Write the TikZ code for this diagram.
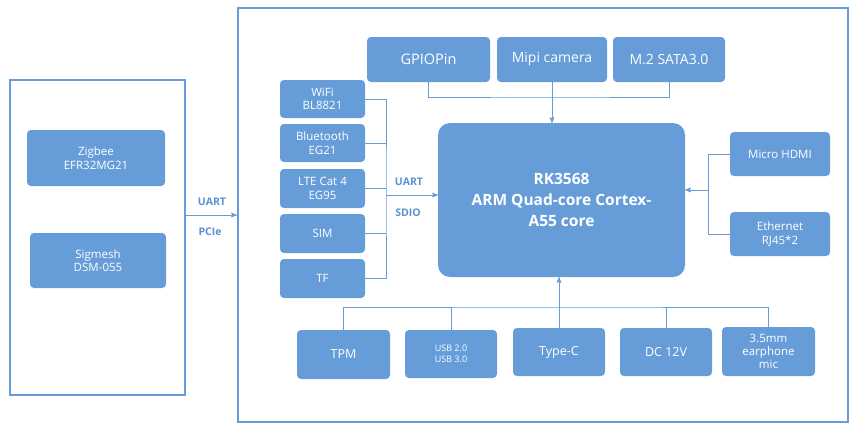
\documentclass[tikz,border=0pt]{standalone}
\usepackage{fontspec}
\setmainfont{Open Sans}
\usetikzlibrary{positioning, arrows, calc}
\definecolor{boxblue}{RGB}{102, 157, 217}
\definecolor{textblue}{RGB}{90, 145, 210}

\begin{document}
\begin{tikzpicture}[
    x=1pt, y=-1pt,
    block/.style={rectangle, rounded corners=4pt, draw=none, fill=boxblue, text=white, align=center, font=\fontsize{11.5}{13.5}\selectfont, inner sep=1pt},
    frame/.style={rectangle, draw=boxblue, line width=2.5pt, inner sep=0pt},
    bus/.style={draw=boxblue, line width=1pt},
    arrow/.style={bus, ->, >=stealth'},
    tag/.style={text=textblue, font=\fontsize{10.5}{12}\selectfont\bfseries}
]
\useasboundingbox (0,0) rectangle (858,432);

% outer frames
\node (left) [frame, minimum width=175, minimum height=315] at (97.5,237.5) {};
\node (board) [frame, minimum width=610, minimum height=414] at (543,215) {};

% left side modules
\node (zigbee) [block, minimum width=138, minimum height=56] at (96,158) {Zigbee\\EFR32MG21};
\node (sigmesh) [block, minimum width=136, minimum height=55] at (98,260.5) {Sigmesh\\DSM-055};

% core
\node (soc) [block, rounded corners=12pt, minimum width=247, minimum height=154, font=\fontsize{15.5}{21}\selectfont\bfseries] at (561.5,200) {RK3568\\ARM Quad-core Cortex-\\A55 core};

% top row
\node (gpio) [block, minimum width=123, minimum height=45, font=\fontsize{14.5}{17}\selectfont] at (428.5,59.5) {GPIOPin};
\node (mipi) [block, minimum width=110, minimum height=45, font=\fontsize{14}{17}\selectfont] at (552,59.5) {Mipi camera};
\node (m2) [block, minimum width=112, minimum height=45, font=\fontsize{14}{17}\selectfont] at (669,59.5) {M.2 SATA3.0};

% wireless column
\node (wifi) [block, minimum width=85, minimum height=38] at (322.5,99) {WiFi\\BL8821};
\node (bt) [block, minimum width=85, minimum height=38] at (322.5,143) {Bluetooth\\EG21};
\node (lte) [block, minimum width=85, minimum height=39] at (322.5,188.5) {LTE Cat 4\\EG95};
\node (sim) [block, minimum width=85, minimum height=39] at (322.5,233.5) {SIM};
\node (tf) [block, minimum width=85, minimum height=39] at (322.5,278.5) {TF};

% right column
\node (hdmi) [block, minimum width=100, minimum height=44] at (780,154) {Micro HDMI};
\node (eth) [block, minimum width=100, minimum height=44] at (780,234) {Ethernet\\RJ45*2};

% bottom row
\node (tpm) [block, minimum width=93, minimum height=49, font=\fontsize{12.5}{15}\selectfont] at (343.5,354.5) {TPM};
\node (usb) [block, minimum width=92, minimum height=48, font=\fontsize{9}{11}\selectfont] at (451,354) {USB 2.0\\USB 3.0};
\node (typec) [block, minimum width=92, minimum height=48, font=\fontsize{12.5}{15}\selectfont] at (559,352) {Type-C};
\node (dc) [block, minimum width=92, minimum height=48, font=\fontsize{12.5}{15}\selectfont] at (666,352) {DC 12V};
\node (audio) [block, minimum width=93, minimum height=49, font=\fontsize{11.5}{13}\selectfont] at (768.5,351.5) {3.5mm\\earphone\\mic};

% bus junctions
\coordinate (lbus) at (386,195);
\coordinate (tbus) at (552,97);
\coordinate (rbus) at (708,190);
\coordinate (bbus) at (559,307);

% left link
\draw [arrow] (left.east |- 0,215) -- (board.west |- 0,215);
\node (uartl) [tag] at (212,202) {UART};
\node (pcie) [tag] at (210,232) {PCIe};

% wireless bus
\draw [bus] (wifi.east) -| (lbus) |- (tf.east);
\foreach \n in {bt, lte, sim}
  \draw [bus] (\n.east) -- (\n.east -| lbus);
\draw [arrow] (lbus) -- (soc.west |- lbus);
\node (uart) [tag] at (409,182) {UART};
\node (sdio) [tag] at (408,213) {SDIO};

% top bus
\draw [bus] (gpio.south) |- (tbus) -| (m2.south);
\draw [arrow] (mipi.south) -- (soc.north -| mipi.south);

% right bus
\draw [bus] (hdmi.west) -| (rbus) |- (eth.west);
\draw [arrow] (rbus) -- (soc.east |- rbus);

% bottom bus
\draw [bus] (tpm.north) |- (bbus) -| (audio.north);
\draw [bus] (usb.north) -- (usb.north |- bbus);
\draw [bus] (dc.north) -- (dc.north |- bbus);
\draw [arrow] (typec.north) -- (soc.south -| typec.north);

\end{tikzpicture}
\end{document}
